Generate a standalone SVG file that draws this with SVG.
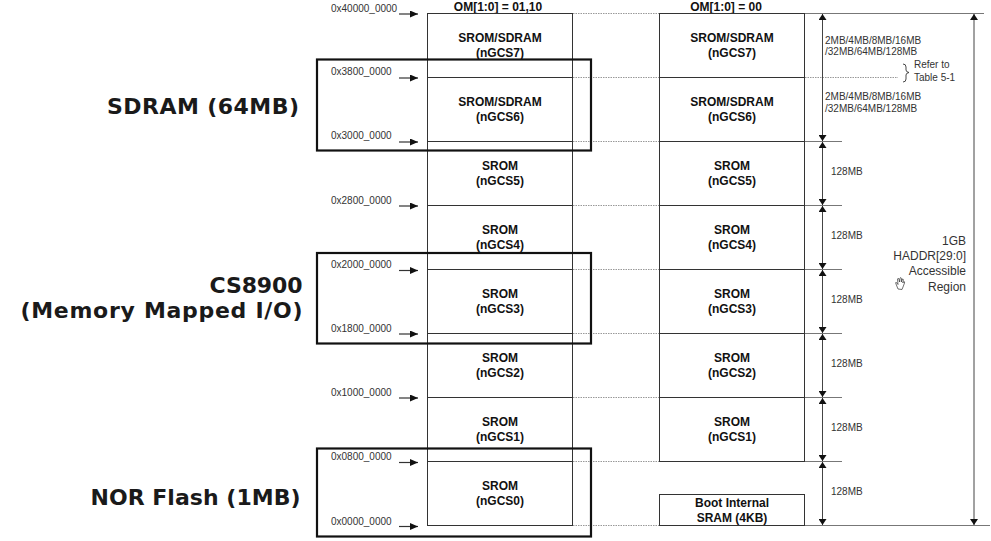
<svg xmlns="http://www.w3.org/2000/svg" width="991" height="541" viewBox="0 0 991 541">
<defs>
<marker id="ah" viewBox="0 0 6 8" refX="6" refY="4" markerWidth="6" markerHeight="8" markerUnits="userSpaceOnUse" orient="auto-start-reverse"><path d="M0,0 L6,4 L0,8 z" fill="#111"/></marker>
<marker id="sa" viewBox="0 0 8 7" refX="8" refY="3.5" markerWidth="8" markerHeight="7" markerUnits="userSpaceOnUse" orient="auto"><path d="M0,0 L8,3.5 L0,7 z" fill="#111"/></marker>
</defs>
<style>
.cell{fill:#fff;stroke:#333;stroke-width:1}
.ct{font-family:"Liberation Sans",Arial,sans-serif;font-size:12px;font-weight:bold;fill:#111;text-anchor:middle}
.ad{font-family:"Liberation Sans",Arial,sans-serif;font-size:10px;fill:#333}
.sm{font-family:"Liberation Sans",Arial,sans-serif;font-size:10px;fill:#333}
.md{font-family:"Liberation Sans",Arial,sans-serif;font-size:12px;fill:#333;text-anchor:end}
.big{font-family:"DejaVu Sans",Verdana,sans-serif;font-size:22px;font-weight:bold;fill:#1a1a1a;text-anchor:end}
.hl{fill:none;stroke:#111;stroke-width:2.2}
.dot{stroke:#999;stroke-width:1;stroke-dasharray:1.5 1}
.gl{stroke:#777;stroke-width:1}
.dim{stroke:#444;stroke-width:1;marker-start:url(#ah);marker-end:url(#ah)}
.aa{stroke:#333;stroke-width:1.2;marker-end:url(#sa)}
</style>
<rect width="991" height="541" fill="#fff"/>

<text class="ct" x="498" y="10.5">OM[1:0] = 01,10</text>
<text class="ct" x="726" y="10.5">OM[1:0] = 00</text>

<g id="left-column">
<g id="L7"><rect class="cell" x="427.5" y="13.5" width="145" height="64"/><text class="ct" x="500" y="42">SROM/SDRAM</text><text class="ct" x="500" y="57">(nGCS7)</text></g>
<g id="L6"><rect class="cell" x="427.5" y="77.5" width="145" height="64"/><text class="ct" x="500" y="106">SROM/SDRAM</text><text class="ct" x="500" y="121">(nGCS6)</text></g>
<g id="L5"><rect class="cell" x="427.5" y="141.5" width="145" height="64"/><text class="ct" x="500" y="170">SROM</text><text class="ct" x="500" y="185">(nGCS5)</text></g>
<g id="L4"><rect class="cell" x="427.5" y="205.5" width="145" height="64"/><text class="ct" x="500" y="234">SROM</text><text class="ct" x="500" y="249">(nGCS4)</text></g>
<g id="L3"><rect class="cell" x="427.5" y="269.5" width="145" height="64"/><text class="ct" x="500" y="298">SROM</text><text class="ct" x="500" y="313">(nGCS3)</text></g>
<g id="L2"><rect class="cell" x="427.5" y="333.5" width="145" height="64"/><text class="ct" x="500" y="362">SROM</text><text class="ct" x="500" y="377">(nGCS2)</text></g>
<g id="L1"><rect class="cell" x="427.5" y="397.5" width="145" height="64"/><text class="ct" x="500" y="426">SROM</text><text class="ct" x="500" y="441">(nGCS1)</text></g>
<g id="L0"><rect class="cell" x="427.5" y="461.5" width="145" height="64"/><text class="ct" x="500" y="490">SROM</text><text class="ct" x="500" y="505">(nGCS0)</text></g>
</g>

<g id="right-column">
<g id="R7"><rect class="cell" x="659.5" y="13.5" width="145" height="64"/><text class="ct" x="732" y="42">SROM/SDRAM</text><text class="ct" x="732" y="57">(nGCS7)</text></g>
<g id="R6"><rect class="cell" x="659.5" y="77.5" width="145" height="64"/><text class="ct" x="732" y="106">SROM/SDRAM</text><text class="ct" x="732" y="121">(nGCS6)</text></g>
<g id="R5"><rect class="cell" x="659.5" y="141.5" width="145" height="64"/><text class="ct" x="732" y="170">SROM</text><text class="ct" x="732" y="185">(nGCS5)</text></g>
<g id="R4"><rect class="cell" x="659.5" y="205.5" width="145" height="64"/><text class="ct" x="732" y="234">SROM</text><text class="ct" x="732" y="249">(nGCS4)</text></g>
<g id="R3"><rect class="cell" x="659.5" y="269.5" width="145" height="64"/><text class="ct" x="732" y="298">SROM</text><text class="ct" x="732" y="313">(nGCS3)</text></g>
<g id="R2"><rect class="cell" x="659.5" y="333.5" width="145" height="64"/><text class="ct" x="732" y="362">SROM</text><text class="ct" x="732" y="377">(nGCS2)</text></g>
<g id="R1"><rect class="cell" x="659.5" y="397.5" width="145" height="64"/><text class="ct" x="732" y="426">SROM</text><text class="ct" x="732" y="441">(nGCS1)</text></g>
<g id="Rboot"><rect class="cell" x="659.5" y="494.5" width="145" height="31"/><text class="ct" x="732" y="507">Boot Internal</text><text class="ct" x="732" y="522">SRAM (4KB)</text></g>
</g>

<g id="addresses">
<text class="ad" x="331" y="12">0x40000_0000</text>
<text class="ad" x="331" y="75">0x3800_0000</text>
<text class="ad" x="331" y="139">0x3000_0000</text>
<text class="ad" x="331" y="204">0x2800_0000</text>
<text class="ad" x="331" y="268">0x2000_0000</text>
<text class="ad" x="331" y="332">0x1800_0000</text>
<text class="ad" x="331" y="396">0x1000_0000</text>
<text class="ad" x="331" y="460">0x0800_0000</text>
<text class="ad" x="331" y="525">0x0000_0000</text>
</g>

<g id="connectors">
<line class="aa" x1="399" y1="14" x2="418" y2="14"/>
<line class="aa" x1="399" y1="78" x2="418" y2="78"/>
<line class="aa" x1="399" y1="142" x2="418" y2="142"/>
<line class="aa" x1="399" y1="206" x2="418" y2="206"/>
<line class="aa" x1="399" y1="270.5" x2="418" y2="270.5"/>
<line class="aa" x1="399" y1="334" x2="418" y2="334"/>
<line class="aa" x1="399" y1="398" x2="418" y2="398"/>
<line class="aa" x1="399" y1="462.5" x2="418" y2="462.5"/>
<line class="aa" x1="399" y1="526.5" x2="418" y2="526.5"/>

<line class="dot" x1="573" y1="13.5" x2="659" y2="13.5"/>
<line class="dot" x1="573" y1="77.5" x2="659" y2="77.5"/>
<line class="dot" x1="573" y1="141.5" x2="659" y2="141.5"/>
<line class="dot" x1="573" y1="205.5" x2="659" y2="205.5"/>
<line class="dot" x1="573" y1="269.5" x2="659" y2="269.5"/>
<line class="dot" x1="573" y1="333.5" x2="659" y2="333.5"/>
<line class="dot" x1="573" y1="397.5" x2="659" y2="397.5"/>
<line class="dot" x1="573" y1="461.5" x2="659" y2="461.5"/>
<line class="dot" x1="573" y1="525.5" x2="659" y2="525.5"/>
<line class="dot" x1="805" y1="77.5" x2="898" y2="77.5"/>

<line class="gl" x1="805" y1="13.5" x2="984" y2="13.5"/>
<line class="gl" x1="805" y1="141.5" x2="842" y2="141.5"/>
<line class="gl" x1="805" y1="205.5" x2="842" y2="205.5"/>
<line class="gl" x1="805" y1="269.5" x2="842" y2="269.5"/>
<line class="gl" x1="805" y1="333.5" x2="842" y2="333.5"/>
<line class="gl" x1="805" y1="397.5" x2="842" y2="397.5"/>
<line class="gl" x1="805" y1="461.5" x2="842" y2="461.5"/>
<line class="gl" x1="805" y1="525.5" x2="990" y2="525.5"/>

<line class="dim" x1="822.5" y1="14" x2="822.5" y2="141"/>
<line class="dim" x1="822.5" y1="142" x2="822.5" y2="205"/>
<line class="dim" x1="822.5" y1="206" x2="822.5" y2="269"/>
<line class="dim" x1="822.5" y1="270" x2="822.5" y2="333"/>
<line class="dim" x1="822.5" y1="334" x2="822.5" y2="397"/>
<line class="dim" x1="822.5" y1="398" x2="822.5" y2="461"/>
<line class="dim" x1="822.5" y1="462" x2="822.5" y2="525"/>
<line class="dim" x1="974" y1="14" x2="974" y2="525"/>
</g>

<g id="right-notes">
<text class="sm" x="825" y="44">2MB/4MB/8MB/16MB</text>
<text class="sm" x="825" y="55">/32MB/64MB/128MB</text>
<text class="sm" x="825" y="100">2MB/4MB/8MB/16MB</text>
<text class="sm" x="825" y="112">/32MB/64MB/128MB</text>
<path d="M903,64 Q906,64 906,67 L906,70 Q906,72 909,72.5 Q906,73 906,75 L906,79 Q906,82 903,82" fill="none" stroke="#333" stroke-width="0.9"/>
<text class="sm" x="914" y="68">Refer to</text>
<text class="sm" x="914" y="81">Table 5-1</text>
<text class="sm" x="831" y="175">128MB</text>
<text class="sm" x="831" y="239">128MB</text>
<text class="sm" x="831" y="303">128MB</text>
<text class="sm" x="831" y="367">128MB</text>
<text class="sm" x="831" y="431">128MB</text>
<text class="sm" x="831" y="495">128MB</text>
<text class="md" x="966" y="245">1GB</text>
<text class="md" x="966" y="260">HADDR[29:0]</text>
<text class="md" x="966" y="275">Accessible</text>
<text class="md" x="966" y="291">Region</text>
<path d="M898,289 L896,284 Q895,282 896.5,282.5 L898,284.5 L897.5,279 Q898,277.5 899,279 L899.5,282 L900,278 Q901,277 901.5,278.5 L901.3,282 L902.3,279 Q903.3,278.5 903.3,280 L902.8,283 L903.8,281.5 Q905,281.5 904.5,283 L903,287 L902,289.5 Z" fill="#fff" stroke="#333" stroke-width="0.7"/>
</g>

<g id="highlights">
<rect class="hl" x="317" y="59.5" width="274" height="91"/>
<rect class="hl" x="317" y="253" width="274" height="90.5"/>
<rect class="hl" x="317" y="448.5" width="274" height="88"/>
</g>

<g id="labels">
<text class="big" x="299" y="114" textLength="192" lengthAdjust="spacing">SDRAM (64MB)</text>
<text class="big" x="302.5" y="293" textLength="93" lengthAdjust="spacing">CS8900</text>
<text class="big" x="302.5" y="318" textLength="282" lengthAdjust="spacing">(Memory Mapped I/O)</text>
<text class="big" x="300.5" y="505" textLength="210" lengthAdjust="spacing">NOR Flash (1MB)</text>
</g>
</svg>
